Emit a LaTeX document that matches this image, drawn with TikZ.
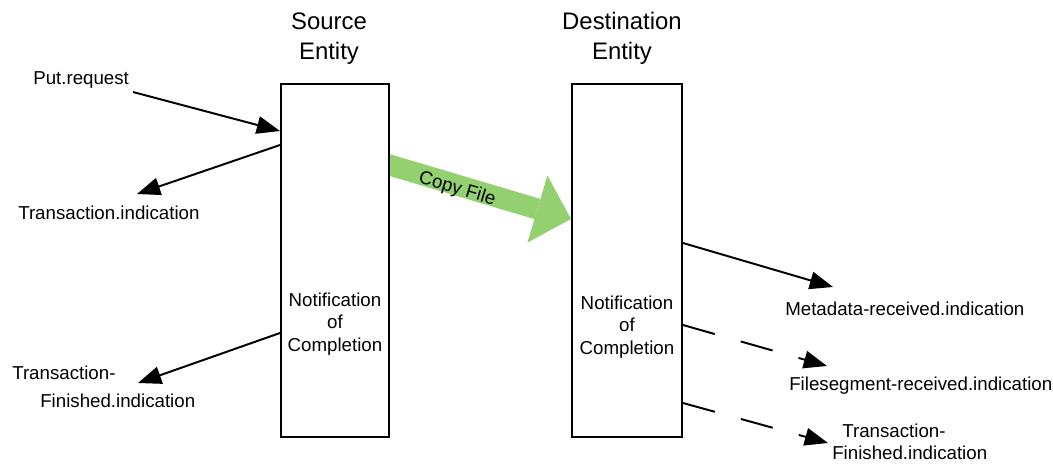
\documentclass[tikz,border=0pt]{standalone}
\usepackage{fontspec}
\setmainfont{Liberation Sans}
\usepackage{xcolor}
\usetikzlibrary{arrows.meta, backgrounds}

\definecolor{copygreen}{RGB}{146,208,112}

\tikzset{
	entity/.style={draw, fill=white, line width=1.4pt, minimum height=8.825cm, inner sep=0pt},
	heading/.style={align=center, font=\fontsize{17}{21.3}\selectfont},
	note/.style={align=center, font=\fontsize{13.3}{16}\selectfont},
	prim/.style={anchor=base west, inner sep=0pt, font=\fontsize{13.3}{16}\selectfont},
	sig/.style={line width=1.4pt, -{Triangle[length=0.58cm, width=0.44cm]}},
	sigdash/.style={sig, dash pattern=on 23.5pt off 19.2pt},
}

\begin{document}
\begin{tikzpicture}[x=0.025cm, y=-0.025cm]
		\useasboundingbox (0,0) rectangle (1053,463);

		% the two entities
		\node[entity, minimum width=2.7cm] (src) at (335,260.5) {};
		\node[entity, minimum width=2.75cm] (dst) at (627,260.5) {};
		\node[heading] (srctitle) at (329,38.5) {Source\\Entity};
		\node[heading] (dsttitle) at (622,38.5) {Destination\\Entity};
		\node[note] (srcnote) at (335,324) {Notification\\of\\Completion};
		\node[note] (dstnote) at (627,327) {Notification\\of\\Completion};

		% primitives at the source side
		\node[prim] (put) at (33,84) {Put.request};
		\node[prim] (tind) at (18,219) {Transaction.indication};
		\node[prim] (tfinA) at (12,379) {Transaction-};
		\node[prim] (tfinAb) at (40,407) {Finished.indication};

		% primitives at the destination side
		\node[prim] (meta) at (785,315) {Metadata-received.indication};
		\node[prim] (fseg) at (789,390) {Filesegment-received.indication};
		\node[prim] (tfinB) at (842,437) {Transaction-};
		\node[prim] (tfinBb) at (832,459) {Finished.indication};

		% free ends of the arrows
		\coordinate (putTail) at (133,92);
		\coordinate (tindTip) at (137,194);
		\coordinate (tfinATip) at (138,383);
		\coordinate (metaTip) at (833,287);
		\coordinate (fsegTip) at (827,366);
		\coordinate (tfinBTip) at (828,443);
		\coordinate (copyTail) at (366,158);

		\draw[sig] (putTail) -- (src.west |- 0,131);
		\draw[sig] (src.west |- 0,145) -- (tindTip);
		\draw[sig] (src.west |- 0,333) -- (tfinATip);

		\draw[sig] (dst.east |- 0,243) -- (metaTip);
		\draw[sigdash] (dst.east |- 0,325) -- (fsegTip);
		\draw[sigdash] (dst.east |- 0,403) -- (tfinBTip);

		% the file transfer
		\begin{scope}[on background layer]
			\draw[copygreen, line width=0.525cm, -{Triangle[length=0.875cm, width=1.75cm, line width=0pt]}]
				(copyTail) -- node[pos=0.45, sloped, yshift=-0.1cm, black, font=\fontsize{13.3}{16}\selectfont] {Copy File} (dst.west |- 0,219);
		\end{scope}
\end{tikzpicture}
\end{document}
